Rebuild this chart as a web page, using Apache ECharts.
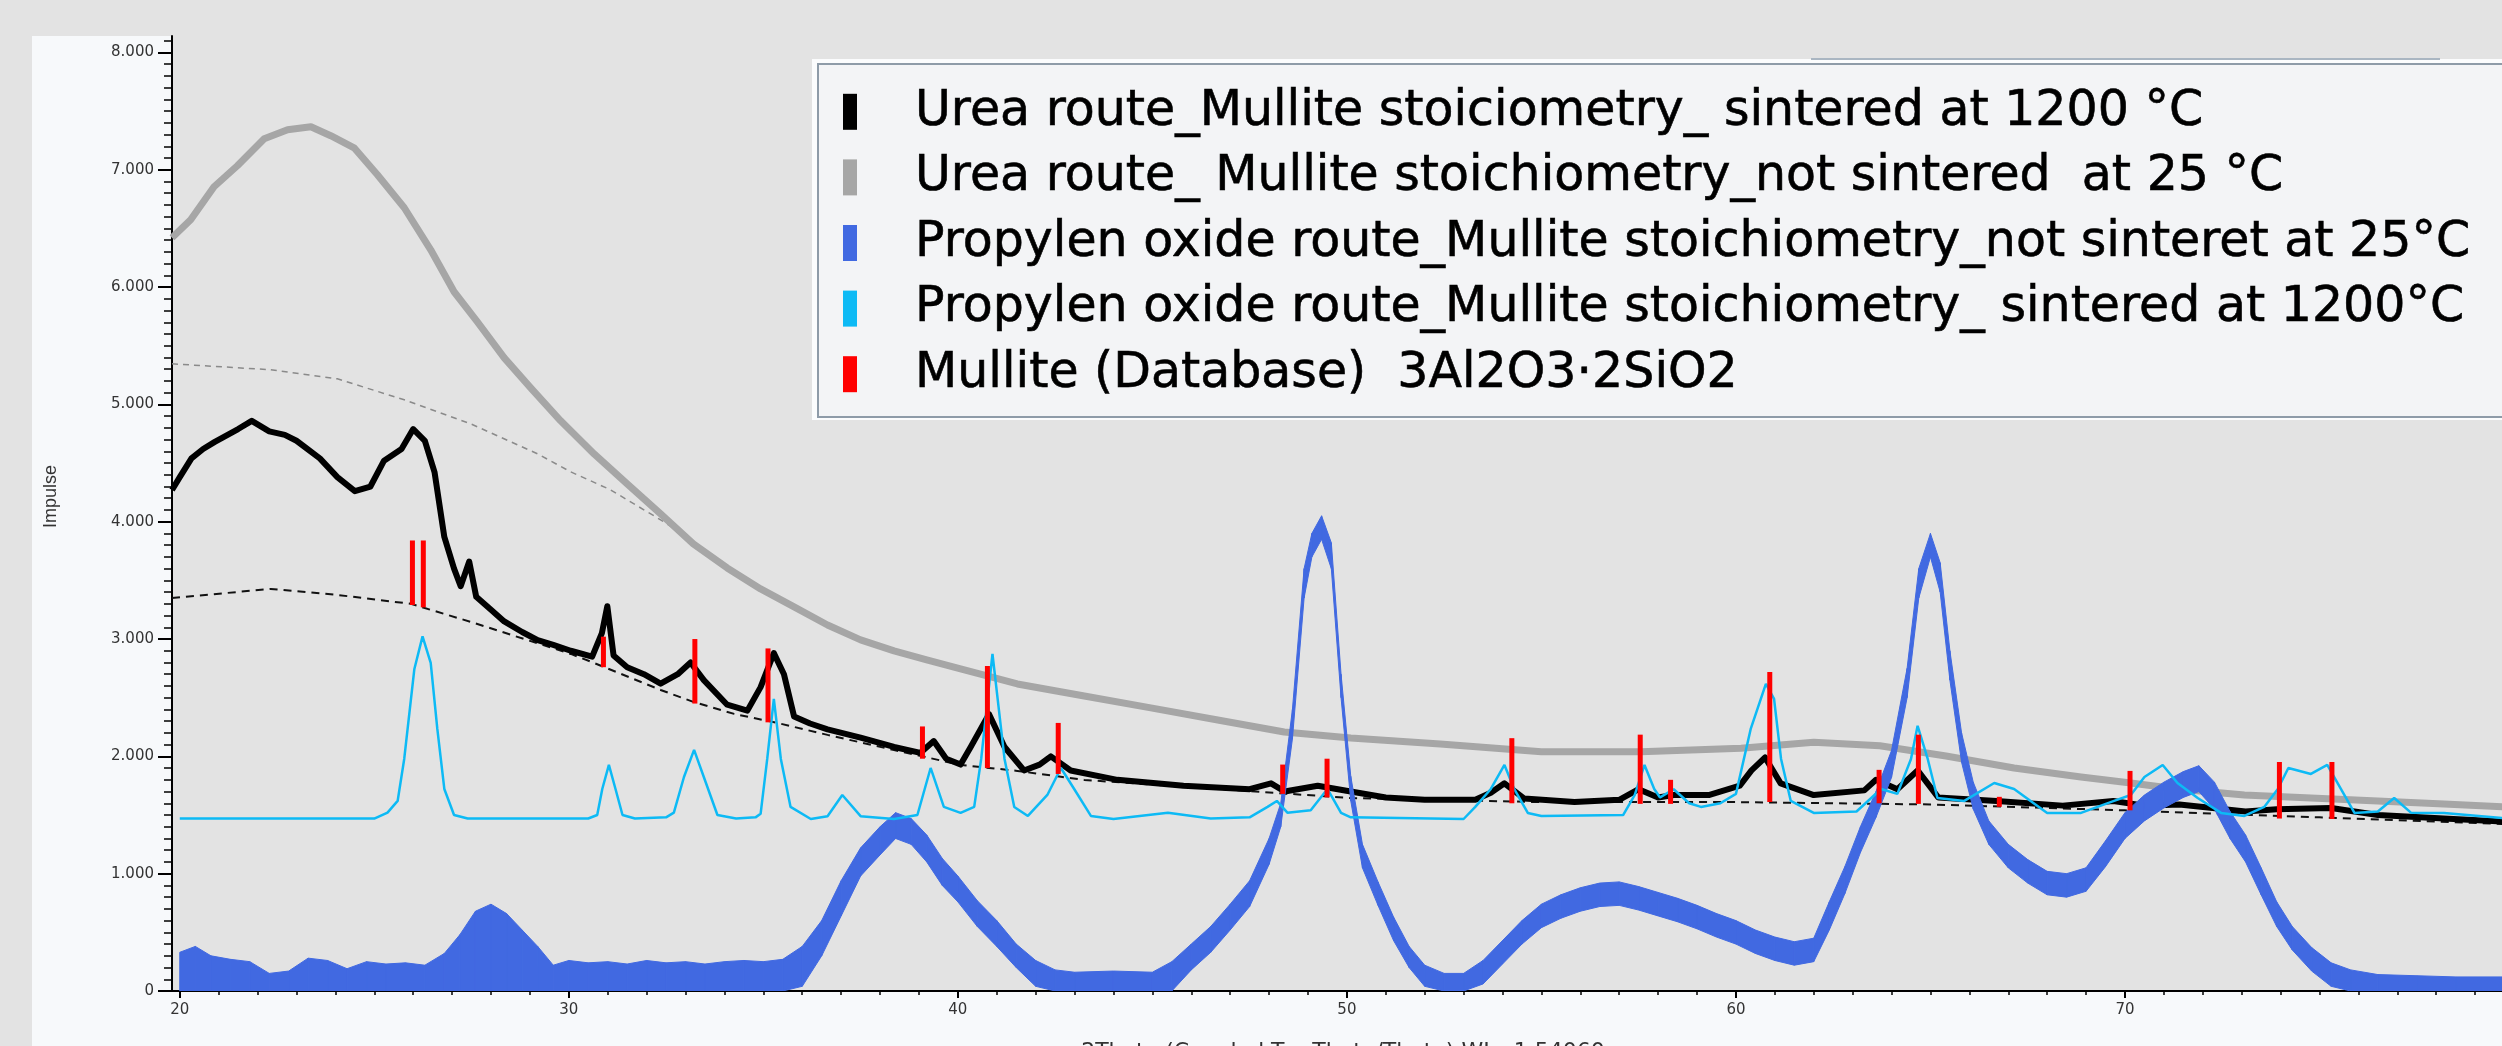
<!DOCTYPE html>
<html lang="en">
<head>
<meta charset="UTF-8">
<title>XRD Mullite</title>
<script src="https://cdn.jsdelivr.net/npm/echarts@6.0.0/dist/echarts.min.js"></script>
<style>
  html, body { margin: 0; padding: 0; background: #e3e3e3; }
  #main { width: 2502px; height: 1046px; }
</style>
</head>
<body>
<div id="main"></div>
<script>
// legend entries, same order as in the picture
const names = [
    'Urea route_Mullite stoiciometry_ sintered at 1200 °C',
    'Urea route_ Mullite stoichiometry_not sintered  at 25 °C',
    'Propylen oxide route_Mullite stoichiometry_not sinteret at 25°C',
    'Propylen oxide route_Mullite stoichiometry_ sintered at 1200°C',
    'Mullite (Database)  3Al2O3·2SiO2'
]
const xTitle = '2Theta (Coupled TwoTheta/Theta) WL=1.54060'
const yTitle = 'Impulse'

// tick positions
const xMajor = [20, 30, 40, 50, 60, 70]
const yMajor = [0, 1000, 2000, 3000, 4000, 5000, 6000, 7000, 8000]
const xMinor = []
for (let t = 20; t < 80; t++) xMinor.push(t)
const yMinor = []
for (let v = 0; v <= 8100; v += 100) yMinor.push(v)

// [2theta, impulse]
const ureaSintered = [
    [19.8, 4270], [20.0, 4380], [20.3, 4540], [20.6, 4620], [20.9, 4680], [21.5, 4790], [21.85, 4860],
    [22.3, 4770], [22.7, 4740], [23.0, 4690], [23.6, 4540], [24.05, 4380], [24.5, 4260], [24.9, 4300],
    [25.25, 4520], [25.7, 4620], [26.0, 4790], [26.3, 4690], [26.55, 4420], [26.8, 3870], [27.05, 3600],
    [27.22, 3450], [27.44, 3660], [27.62, 3360], [28.0, 3250], [28.34, 3150], [28.8, 3060], [29.2, 2990],
    [29.6, 2950], [30.05, 2900], [30.6, 2850], [30.85, 3050], [30.99, 3280], [31.15, 2860], [31.5, 2760],
    [31.93, 2700], [32.36, 2620], [32.8, 2700], [33.13, 2800], [33.47, 2650], [34.07, 2440], [34.59, 2390],
    [34.93, 2590], [35.27, 2880], [35.53, 2700], [35.79, 2340], [36.2, 2280], [36.65, 2230], [37.5, 2160],
    [38.36, 2080], [39.04, 2030], [39.38, 2130], [39.7, 1980], [40.07, 1930], [40.33, 2080], [40.8, 2360],
    [41.2, 2080], [41.7, 1880], [42.1, 1930], [42.39, 2000], [42.9, 1880], [44.1, 1800], [45.8, 1750],
    [47.5, 1720], [48.05, 1770], [48.4, 1700], [49.25, 1750], [50.1, 1700], [51.0, 1650], [52.0, 1630],
    [53.3, 1630], [53.7, 1690], [54.05, 1770], [54.56, 1640], [55.85, 1610], [57.0, 1630], [57.5, 1720],
    [58.0, 1650], [58.4, 1670], [59.3, 1670], [60.1, 1750], [60.4, 1880], [60.75, 1990], [61.15, 1770],
    [62.0, 1670], [63.3, 1710], [63.6, 1800], [64.15, 1720], [64.67, 1880], [65.2, 1650], [66.7, 1620],
    [68.4, 1580], [69.7, 1620], [70.5, 1580], [71.4, 1590], [73.1, 1530], [73.9, 1550], [75.3, 1560],
    [76.5, 1500], [78.2, 1470], [80.0, 1440]
]
const ureaRaw = [
    [19.8, 6420], [20.28, 6573], [20.88, 6855], [21.48, 7034], [22.17, 7264], [22.77, 7341], [23.37, 7366],
    [23.88, 7290], [24.48, 7187], [25.08, 6957], [25.77, 6676], [26.45, 6318], [27.05, 5960], [27.65, 5704],
    [28.34, 5397], [29.02, 5141], [29.79, 4860], [30.65, 4578], [31.5, 4322], [32.36, 4067], [33.2, 3811],
    [34.07, 3606], [34.93, 3427], [35.79, 3274], [36.65, 3120], [37.5, 2993], [38.36, 2899], [39.2, 2822],
    [40.07, 2745], [41.53, 2617], [43.25, 2515], [44.96, 2413], [46.68, 2310], [48.39, 2208], [50.1, 2157],
    [52.4, 2106], [55.0, 2040], [57.56, 2040], [60.13, 2070], [62.0, 2120], [63.7, 2090], [65.4, 2003],
    [67.15, 1901], [68.87, 1824], [70.15, 1773], [71.35, 1722], [73.07, 1671], [74.78, 1645], [76.5, 1620],
    [78.2, 1594], [80.0, 1565]
]
const propSintered = [
    [20.0, 1470], [25.0, 1470], [25.34, 1520], [25.6, 1620], [25.77, 1980], [26.03, 2745], [26.24, 3023],
    [26.45, 2796], [26.62, 2234], [26.8, 1722], [27.05, 1500], [27.4, 1470], [30.5, 1470], [30.73, 1500],
    [30.86, 1722], [31.03, 1927], [31.2, 1722], [31.38, 1500], [31.7, 1470], [32.5, 1480], [32.7, 1520],
    [32.96, 1824], [33.22, 2055], [33.47, 1824], [33.82, 1500], [34.3, 1470], [34.8, 1480], [34.93, 1510],
    [35.1, 1978], [35.27, 2490], [35.45, 1978], [35.7, 1569], [36.22, 1466], [36.65, 1490], [37.03, 1671],
    [37.5, 1490], [38.36, 1466], [38.96, 1500], [39.3, 1901], [39.64, 1569], [40.07, 1518], [40.42, 1569],
    [40.6, 1978], [40.89, 2873], [41.2, 1978], [41.45, 1569], [41.8, 1492], [42.3, 1671], [42.65, 1901],
    [42.99, 1722], [43.42, 1492], [44.0, 1466], [45.4, 1520], [46.5, 1470], [47.5, 1480], [47.96, 1569],
    [48.2, 1620], [48.47, 1520], [49.07, 1540], [49.5, 1722], [49.85, 1518], [50.1, 1480], [53.0, 1466],
    [53.3, 1569], [53.7, 1722], [54.05, 1927], [54.3, 1722], [54.65, 1518], [55.0, 1492], [57.1, 1500],
    [57.4, 1671], [57.65, 1927], [57.9, 1722], [58.05, 1650], [58.4, 1720], [58.8, 1600], [59.1, 1569],
    [59.6, 1600], [60.0, 1680], [60.38, 2234], [60.77, 2617], [60.98, 2490], [61.16, 1978], [61.41, 1620],
    [62.0, 1518], [63.1, 1530], [63.73, 1722], [64.15, 1680], [64.5, 1978], [64.67, 2260], [64.93, 1978],
    [65.18, 1645], [65.87, 1620], [66.64, 1773], [67.15, 1722], [68.0, 1518], [68.87, 1518], [69.72, 1620],
    [70.15, 1671], [70.5, 1824], [70.97, 1927], [71.35, 1773], [71.87, 1645], [72.47, 1518], [73.07, 1492],
    [73.58, 1569], [73.93, 1722], [74.2, 1901], [74.78, 1850], [75.2, 1927], [75.55, 1722], [75.9, 1518],
    [76.5, 1530], [76.92, 1645], [77.35, 1520], [78.2, 1518], [80.0, 1466]
]
// [2theta, lower edge, upper edge] of the noisy trace
const propRaw = [
    [20.0, 0, 330], [20.4, 0, 380], [20.8, 0, 300], [21.3, 0, 270], [21.8, 0, 250], [22.3, 0, 150],
    [22.8, 0, 170], [23.3, 0, 280], [23.8, 0, 260], [24.3, 0, 190], [24.8, 0, 250], [25.3, 0, 230],
    [25.8, 0, 240], [26.3, 0, 220], [26.8, 0, 320], [27.2, 0, 480], [27.6, 0, 680], [28.0, 0, 740],
    [28.4, 0, 660], [28.8, 0, 520], [29.2, 0, 380], [29.6, 0, 220], [30.0, 0, 260], [30.5, 0, 240],
    [31.0, 0, 250], [31.5, 0, 230], [32.0, 0, 260], [32.5, 0, 240], [33.0, 0, 250], [33.5, 0, 230],
    [34.0, 0, 250], [34.5, 0, 260], [35.0, 0, 250], [35.5, 0, 270], [36.0, 40, 380], [36.5, 300, 600],
    [37.0, 640, 940], [37.5, 980, 1220], [38.0, 1160, 1400], [38.4, 1300, 1520], [38.8, 1250, 1470],
    [39.2, 1100, 1330], [39.6, 900, 1130], [40.0, 760, 980], [40.5, 550, 770], [41.0, 380, 600],
    [41.5, 200, 400], [42.0, 40, 260], [42.5, 0, 180], [43.0, 0, 160], [44.0, 0, 170], [45.0, 0, 160],
    [45.5, 0, 250], [46.0, 180, 400], [46.5, 330, 550], [47.0, 520, 740], [47.5, 720, 940],
    [48.0, 1080, 1300], [48.3, 1400, 1600], [48.6, 2150, 2400], [48.9, 3350, 3600], [49.1, 3700, 3900],
    [49.35, 3850, 4050], [49.6, 3600, 3820], [49.85, 2500, 2700], [50.1, 1620, 1830], [50.4, 1050, 1250],
    [50.8, 730, 930], [51.2, 430, 630], [51.6, 200, 380], [52.0, 40, 220], [52.5, 0, 150], [53.0, 0, 150],
    [53.5, 60, 260], [54.0, 230, 430], [54.5, 400, 600], [55.0, 540, 740], [55.5, 620, 820],
    [56.0, 680, 880], [56.5, 720, 920], [57.0, 730, 930], [57.5, 690, 890], [58.0, 640, 840],
    [58.5, 590, 790], [59.0, 530, 730], [59.5, 460, 660], [60.0, 400, 600], [60.5, 320, 520],
    [61.0, 260, 460], [61.5, 220, 420], [62.0, 250, 450], [62.4, 520, 760], [62.8, 830, 1060],
    [63.2, 1180, 1400], [63.6, 1480, 1700], [64.0, 1820, 2050], [64.4, 2500, 2750], [64.7, 3350, 3600],
    [65.0, 3700, 3900], [65.25, 3400, 3650], [65.5, 2650, 2900], [65.8, 1950, 2200], [66.1, 1550, 1780],
    [66.5, 1250, 1450], [67.0, 1050, 1250], [67.5, 920, 1120], [68.0, 820, 1020], [68.5, 800, 1000],
    [69.0, 850, 1050], [69.5, 1060, 1280], [70.0, 1300, 1520], [70.5, 1450, 1670], [71.0, 1560, 1780],
    [71.5, 1650, 1870], [71.9, 1700, 1920], [72.3, 1550, 1780], [72.7, 1300, 1530], [73.1, 1100, 1330],
    [73.5, 820, 1050], [73.9, 550, 760], [74.3, 350, 550], [74.8, 170, 370], [75.3, 40, 240],
    [75.8, 0, 180], [76.5, 0, 140], [77.5, 0, 130], [78.5, 0, 120], [80.0, 0, 120]
]
// fitted backgrounds (dashed)
const ureaSinteredBg = [
    [19.8, 3350], [22.34, 3427], [24.05, 3376], [25.94, 3300], [27.48, 3146], [30.05, 2873], [30.65, 2796],
    [32.36, 2566], [33.2, 2464], [34.25, 2362], [35.36, 2285], [36.65, 2183], [38.36, 2054], [40.07, 1927],
    [41.53, 1876], [43.25, 1799], [46.68, 1722], [50.1, 1645], [55.0, 1610], [60.0, 1610], [65.0, 1590],
    [70.0, 1540], [75.0, 1480], [80.0, 1420]
]
const ureaRawBg = [
    [19.8, 5346], [22.34, 5295], [24.05, 5218], [25.77, 5039], [27.48, 4834], [29.2, 4578], [30.05, 4425],
    [31.07, 4272], [32.36, 4016], [32.9, 3900]
]
// reference lines: [2theta, from, to]
const mullite = [
    [25.98, 3290, 3840], [26.26, 3270, 3840], [30.89, 2760, 3020], [33.24, 2450, 3000], [35.12, 2290, 2920],
    [39.09, 1980, 2255], [40.76, 1900, 2770], [42.58, 1850, 2285], [48.35, 1680, 1930], [49.49, 1650, 1980],
    [54.24, 1600, 2155], [57.54, 1595, 2185], [58.32, 1595, 1800], [60.87, 1610, 2720], [63.68, 1600, 1885],
    [64.69, 1595, 2185], [66.77, 1570, 1655], [70.13, 1540, 1876], [73.97, 1470, 1952], [75.32, 1466, 1952]
]

const colors = ['#000000', '#a6a6a6', '#4169e1', '#0dbaf5', '#ff0000']

function renderBand(params, api) {
    const i = params.dataIndex
    if (i >= propRaw.length - 1) return null
    const a = propRaw[i]
    const b = propRaw[i + 1]
    const pts = [
        api.coord([a[0], a[1]]), api.coord([b[0], b[1]]),
        api.coord([b[0], b[2]]), api.coord([a[0], a[2]])
    ]
    return {
        type: 'polygon',
        shape: { points: pts },
        style: { fill: colors[2], stroke: colors[2], lineWidth: 1 }
    }
}

function renderStick(params, api) {
    const p0 = api.coord([api.value(0), api.value(1)])
    const p1 = api.coord([api.value(0), api.value(2)])
    return {
        type: 'line',
        shape: { x1: p0[0], y1: p0[1], x2: p1[0], y2: p1[1] },
        style: { stroke: colors[4], lineWidth: 5 }
    }
}

const X_MIN = 19.8, X_MAX = 80, Y_MIN = 0, Y_MAX = 8140
const tickLine = { color: '#000', width: 2 }
const minorLine = { color: '#000', width: 1.5 }

const myChart = echarts.init(document.getElementById('main'))
const option = {
    animation: false,
    backgroundColor: '#e3e3e3',
    textStyle: { fontFamily: 'DejaVu Sans, sans-serif' },
    graphic: [
        { type: 'rect', z: -10, shape: { x: 32, y: 36, width: 140, height: 1010 }, style: { fill: '#f7f9fb' } },
        { type: 'rect', z: -10, shape: { x: 32, y: 991, width: 2470, height: 55 }, style: { fill: '#f7f9fb' } },
        { type: 'rect', z: -10, shape: { x: 812, y: 59, width: 1690, height: 361 }, style: { fill: '#fbfcfd' } },
        { type: 'line', z: -10, shape: { x1: 1811, y1: 59, x2: 2440, y2: 59 }, style: { stroke: '#aab6c2', lineWidth: 2 } }
    ],
    legend: {
        data: names,
        orient: 'vertical',
        left: 818,
        top: 64,
        padding: [23, 80, 18, 25],
        itemGap: 16,
        itemWidth: 14,
        itemHeight: 36,
        icon: 'rect',
        itemStyle: { borderWidth: 0 },
        selectedMode: false,
        backgroundColor: '#f3f4f6',
        borderColor: '#8e9ba8',
        borderWidth: 2,
        textStyle: {
            fontFamily: 'DejaVu Sans',
            fontSize: 49,
            color: '#000',
            textBorderColor: '#000',
            textBorderWidth: 0.6,
            padding: [0, 0, 0, 53]
        }
    },
    grid: {
        left: 172,
        right: -12,
        top: 36,
        bottom: 55,
        outerBoundsMode: 'none'
    },
    xAxis: [
        {
            type: 'value',
            min: X_MIN,
            max: X_MAX,
            name: xTitle,
            nameLocation: 'middle',
            nameGap: 50,
            nameMoveOverlap: false,
            nameTextStyle: { fontSize: 22, color: '#333', verticalAlign: 'top' },
            axisLine: { lineStyle: { color: '#000', width: 2 } },
            axisTick: { length: 7, lineStyle: tickLine, customValues: xMajor },
            axisLabel: { fontSize: 15, color: '#333', margin: 12, customValues: xMajor },
            splitLine: { show: false }
        },
        {
            type: 'value',
            min: X_MIN,
            max: X_MAX,
            position: 'bottom',
            axisLine: { show: false },
            axisTick: { length: 4, lineStyle: minorLine, customValues: xMinor },
            axisLabel: { show: false },
            splitLine: { show: false }
        }
    ],
    yAxis: [
        {
            type: 'value',
            min: Y_MIN,
            max: Y_MAX,
            name: yTitle,
            nameLocation: 'middle',
            nameGap: 112,
            nameRotate: 90,
            nameMoveOverlap: false,
            nameTextStyle: { fontSize: 18, color: '#333', fontFamily: 'Liberation Sans', padding: [0, 0, 0, 34] },
            axisLine: { show: true, lineStyle: { color: '#000', width: 2 } },
            axisTick: { show: true, length: 14, lineStyle: tickLine, customValues: yMajor },
            axisLabel: {
                fontSize: 15,
                color: '#333',
                margin: 18,
                customValues: yMajor,
                formatter: function (v) {
                    return v === 0 ? '0' : (v / 1000).toFixed(3)
                }
            },
            splitLine: { show: false }
        },
        {
            type: 'value',
            min: Y_MIN,
            max: Y_MAX,
            position: 'left',
            axisLine: { show: false },
            axisTick: { show: true, length: 8, lineStyle: minorLine, customValues: yMinor },
            axisLabel: { show: false },
            splitLine: { show: false }
        }
    ],
    series: [
        {
            name: 'ureaRawBg',
            type: 'line',
            data: ureaRawBg,
            symbol: 'none',
            z: 1,
            lineStyle: { color: '#8a8a8a', width: 1.5, type: [6, 5] }
        },
        {
            name: 'ureaSinteredBg',
            type: 'line',
            data: ureaSinteredBg,
            symbol: 'none',
            z: 1,
            lineStyle: { color: '#111', width: 2, type: [8, 6] }
        },
        {
            name: names[1],
            type: 'line',
            data: ureaRaw,
            symbol: 'none',
            z: 2,
            itemStyle: { color: colors[1] },
            lineStyle: { color: colors[1], width: 7, join: 'round' }
        },
        {
            name: names[0],
            type: 'line',
            data: ureaSintered,
            symbol: 'none',
            z: 3,
            itemStyle: { color: colors[0] },
            lineStyle: { color: colors[0], width: 6, join: 'round' }
        },
        {
            name: names[2],
            type: 'custom',
            data: propRaw,
            renderItem: renderBand,
            encode: { x: 0, y: [1, 2] },
            clip: true,
            z: 4,
            itemStyle: { color: colors[2] }
        },
        {
            name: names[3],
            type: 'line',
            data: propSintered,
            symbol: 'none',
            z: 5,
            itemStyle: { color: colors[3] },
            lineStyle: { color: colors[3], width: 2.5 }
        },
        {
            name: names[4],
            type: 'custom',
            data: mullite,
            renderItem: renderStick,
            encode: { x: 0, y: [1, 2] },
            clip: true,
            z: 6,
            itemStyle: { color: colors[4] }
        }
    ]
}
myChart.setOption(option)
</script>
</body>
</html>
